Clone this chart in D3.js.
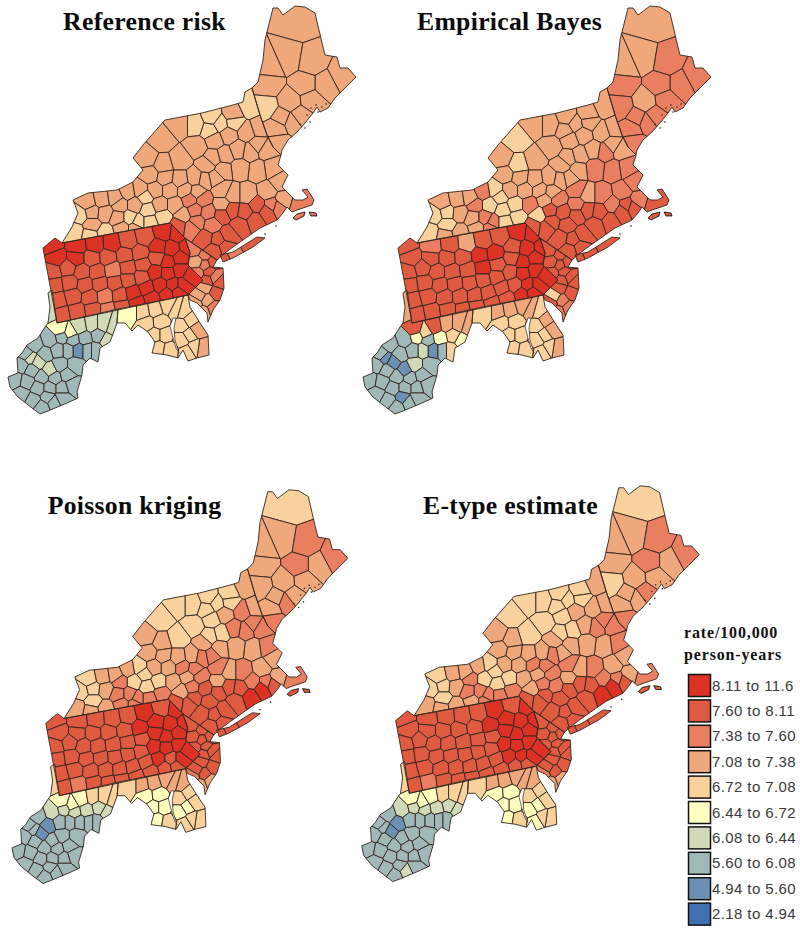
<!DOCTYPE html>
<html><head><meta charset="utf-8">
<script src="https://cdn.jsdelivr.net/npm/d3@7/dist/d3.min.js"></script>
<style>html,body{margin:0;padding:0;background:#fff}svg{display:block}</style>
</head><body><svg id="c" width="800" height="932"></svg>
<script>
// ---- legend ----
const classLabels=["8.11 to 11.6","7.60 to 8.11","7.38 to 7.60","7.08 to 7.38","6.72 to 7.08","6.44 to 6.72","6.08 to 6.44","5.60 to 6.08","4.94 to 5.60","2.18 to 4.94"];
const classColors=["#dc3226","#e05a42","#e97f60","#efa77c","#f8d19c","#ffffc0","#d0dab8","#a0b8b8","#6c90b4","#4070b0"];
const panelTitles=["Reference risk","Empirical Bayes","Poisson kriging","E-type estimate"];
// ---- geography (map units): state/area outlines ----
const outlineME=[[252,88],[258,82],[263,60],[265,40],[273,8],[278,8],[283,15],[295,6],[305,7],[315,13],[322,43],[325,55],[337,57],[340,68],[348,68],[356,77],[345,88],[335,98],[328,108],[320,112],[317,107],[313,113],[305,123],[297,132],[288,140],[282,150],[281,155],[273,147],[267,135],[260,115]];
const outlineNE=[[62,243],[72,227],[78,213],[73,200],[88,193],[117,190],[133,182],[143,170],[133,158],[143,145],[165,120],[202,113],[233,105],[243,102],[245,92],[252,88],[260,115],[267,135],[273,147],[281,155],[278,165],[288,175],[282,187],[295,200],[303,200],[308,197],[302,190],[307,189],[314,200],[312,205],[297,210],[292,212],[287,207],[283,213],[277,220],[260,228],[233,247],[225,253],[217,260],[185,238],[170,223]];
const outlinePA=[[170,223],[185,238],[190,253],[188,265],[203,280],[188,295],[57,323],[43,248],[55,238],[62,243]];
const outlineNJ=[[185,238],[217,260],[213,267],[223,268],[224,288],[220,300],[213,310],[208,322],[207,313],[197,303],[190,300],[188,295],[203,280],[188,265],[190,253]];
const outlineLI=[[220,255],[233,252],[257,237],[265,238],[253,247],[233,258],[223,262]];
const outlineMD=[[118,309],[188,295],[190,307],[200,323],[208,335],[209,355],[197,358],[188,361],[183,350],[178,358],[167,355],[152,353],[155,342],[148,332],[138,325],[132,331],[125,323],[117,323]];
const outlineWV=[[48,293],[52,290],[57,323],[118,309],[117,323],[110,342],[100,348],[98,362],[90,358],[83,365],[82,375],[77,392],[78,398],[67,403],[48,411],[40,414],[32,408],[18,397],[10,387],[8,377],[18,373],[17,358],[22,353],[27,345],[38,338],[45,327],[48,323],[50,307]];
const outlineMV=[[293,218],[297,214],[305,212],[304,216],[296,220]];
const outlineNT=[[309,212],[316,213],[317,216],[311,216]];
const chesapeake=[[173,318],[170,326],[173,338],[176,348],[179,353],[175,340],[174,328],[176,318]];
const coastSpecks=[[311,108],[316,105],[322,107],[326,104],[307,115],[318,112],[310,122],[305,128],[300,124],[276,226],[265,234]];
// ---- county seed points and rate classes (index into classLabels), one entry per county ----
const seedsME=[[298,22],[288,58],[312,62],[270,66],[268,85],[342,76],[325,85],[305,85],[311,100],[290,102],[282,118],[277,128],[292,122],[300,116],[279,143],[266,107]];
const refME =[3,3,3,3,3,3,3,3,3,3,3,3,3,3,3,4];
const ebME  =[3,3,2,3,2,2,2,2,2,3,2,2,2,2,2,2];
const pkME  =[4,3,2,3,3,2,3,2,3,3,3,3,2,3,2,3];
const etME  =[4,3,2,3,3,2,3,2,3,3,3,3,3,2,2,4];
const seedsNE=[
[250,107],[247,132],[259,128],[258,145],[266,150],[250,152],[272,168],[258,170],[238,150],[240,168],
[162,140],[180,125],[195,125],[197,147],[212,118],[220,124],[210,130],[233,115],[234,122],[228,135],
[215,140],[225,155],[213,158],[223,170],[180,160],[163,165],[147,158],[150,175],[165,178],[180,180],
[195,178],[207,165],[205,180],[215,178],[222,190],[197,192],[185,190],[170,190],[155,190],[140,190],
[145,197],[128,192],[120,205],[135,205],[148,210],[160,205],[175,205],[190,200],[203,200],[88,203],
[102,200],[115,198],[80,215],[92,212],[92,225],[105,213],[118,218],[130,218],[75,232],[90,235],
[105,233],[122,228],[138,222],[150,222],[163,217],[135,228],[183,215],[195,210],[197,222],[208,212],
[212,225],[222,205],[222,215],[233,195],[247,195],[232,210],[245,212],[257,205],[268,192],[280,182],
[272,205],[283,200],[300,205],[240,225],[255,220],[267,212],[278,207],[228,235],[218,240],[205,238],
[215,250],[178,226],[192,228],[225,247]];
const refNE=[4,3,3,3,3,3,3,3,3,3, 3,3,4,3,4,4,4,3,4,3, 3,3,3,3,3,3,3,3,3,3, 3,3,3,3,3,3,3,3,3,3, 4,3,3,3,4,3,3,2,2,3, 3,3,4,3,3,3,3,4,4,4, 4,3,4,4,4,3,3,2,2,2, 2,3,1,3,3,1,1,1,3,3, 2,3,2,1,1,1,2,1,1,1, 1,1,2,1];
const ebNE =[3,3,3,3,3,2,2,2,3,2, 4,3,3,3,3,3,3,3,3,3, 3,3,3,3,3,4,3,3,3,3, 3,3,3,3,2,3,3,3,3,4, 4,2,2,4,4,4,2,3,2,3, 3,3,4,4,4,3,3,2,4,3, 3,3,2,4,4,2,4,1,1,1, 1,2,1,3,2,1,1,2,2,2, 1,2,1,1,1,1,1,1,1,1, 1,1,1,1];
const pkNE =[3,2,3,2,2,2,2,3,2,3, 4,4,4,4,4,4,4,4,4,3, 4,4,4,3,4,3,3,3,3,3, 3,3,2,2,2,2,2,3,3,4, 4,3,2,4,4,4,3,3,2,4, 3,3,4,4,4,3,2,2,3,3, 3,2,2,2,2,2,3,2,1,1, 1,3,1,3,2,1,1,2,3,3, 2,3,2,1,0,0,1,1,1,1, 1,1,1,1];
const etNE =[3,3,3,2,2,2,2,3,3,3, 4,4,4,4,4,4,4,4,4,3, 4,4,4,3,4,3,3,3,3,3, 3,3,2,3,2,2,2,3,3,4, 4,3,2,4,4,4,3,3,2,4, 3,3,4,4,4,3,2,2,3,3, 3,3,2,2,2,2,3,2,1,2, 1,3,1,3,2,1,1,2,3,3, 2,3,2,1,0,0,1,1,1,1, 1,1,1,1];
const seedsPA=[
[52,245],[77,247],[95,245],[112,244],[128,241],[145,237],[163,232],[178,234],
[57,258],[76,258],[92,258],[108,257],[125,255],[140,253],[158,247],[172,249],[187,247],
[53,272],[68,268],[82,272],[97,272],[113,270],[128,268],[143,265],[157,258],[168,262],[180,258],
[55,285],[70,283],[85,285],[100,284],[115,283],[128,280],[142,277],[155,272],[168,273],[180,270],[190,276],
[58,300],[73,296],[90,297],[105,296],[120,295],[133,293],[147,288],[160,285],[173,285],[183,285],
[62,315],[77,312],[93,310],[108,310],[122,307],[137,303],[152,298],[167,294],[178,292]];
const refPA=[0,0,0,0,1,1,0,0, 0,0,1,1,1,1,0,0,0, 1,1,1,1,2,1,1,1,0,0, 1,1,1,1,1,1,1,0,0,0,0, 1,1,1,2,1,0,0,0,0,0, 1,1,1,2,1,0,0,0,0];
const ebPA =[1,2,1,3,1,1,0,0, 1,1,1,1,0,0,1,0,0, 1,1,1,1,1,0,1,1,0,0, 1,1,1,1,1,1,1,1,0,0,0, 1,1,1,1,1,1,1,1,0,0, 1,1,1,1,1,1,1,0,0];
const pkPA =[1,1,1,1,1,0,1,0, 1,1,1,1,1,0,0,0,0, 1,1,1,1,1,1,1,0,0,0, 1,1,1,1,1,1,1,0,0,0,0, 1,1,1,1,1,1,1,0,1,0, 1,2,1,1,1,1,1,1,1];
const etPA =[1,1,1,1,1,0,1,0, 1,1,1,1,1,0,0,0,0, 1,1,1,1,1,1,1,0,0,0, 1,1,1,1,1,1,1,0,0,0,0, 1,1,1,1,1,1,1,0,0,0, 1,2,1,1,1,1,1,1,1];
const seedsNJ=[[195,250],[205,255],[197,262],[205,265],[213,262],[209,272],[198,273],[207,280],[215,277],[220,282],[205,288],[216,293],[200,296],[207,300],[196,303],[214,308],[203,312]];
const refNJ=[2,2,3,2,1,1,2,1,2,1,3,1,3,3,3,2,3];
const ebNJ =[1,1,1,1,1,1,1,1,1,1,1,1,4,2,1,2,2];
const pkNJ =[1,1,1,1,1,1,1,1,1,1,1,1,1,1,2,3,3];
const etNJ =[1,1,1,1,1,1,1,1,1,1,1,1,1,1,2,3,3];
const seedsLI=[[250,243],[232,253],[224,257]];
const refLI=[1,2,1], ebLI=[1,1,1], pkLI=[1,1,1], etLI=[1,1,1];
const seedsMD=[[130,312],[143,312],[155,310],[168,306],[176,310],[147,323],[160,322],[155,335],[165,335],[158,348],[170,350],[183,312],[182,325],[190,320],[182,340],[190,335],[187,352],[197,330],[202,348],[195,347]];
const refMD=[5,4,4,4,4,4,4,4,4,4,4,4,4,4,4,4,4,3,3,4];
const ebMD =[4,3,3,3,3,4,4,4,4,4,4,4,4,3,4,4,4,3,3,4];
const pkMD =[4,3,3,3,3,5,5,5,5,5,4,3,4,4,5,5,4,4,4,4];
const etMD =[4,3,3,3,3,5,5,5,5,5,4,3,4,4,5,5,5,4,4,4];
const seedsWV=[
[51,310],[60,330],[70,333],[80,327],[92,325],[103,325],[113,328],[107,340],[98,335],[95,350],
[50,340],[62,337],[73,340],[85,338],[78,350],[68,350],[35,345],[27,355],[30,358],[38,362],
[45,354],[50,370],[60,365],[88,350],[58,350],[22,365],[32,370],[42,377],[55,378],[67,375],
[75,365],[15,380],[27,382],[38,388],[50,388],[62,388],[72,385],[22,394],[33,400],[42,407],
[48,397],[54,402],[62,398]];
const refWV=[6,5,5,6,6,6,6,6,7,7, 7,7,7,7,8,7,7,7,6,6, 7,6,7,7,7,7,7,7,7,7, 7,7,7,7,7,7,7,7,7,7, 7,7,7];
const ebWV =[3,1,4,1,3,3,3,5,4,4, 7,5,7,5,8,6,7,7,8,8, 7,8,6,7,7,7,7,7,7,7, 7,7,7,7,7,7,7,7,7,7, 8,7,7];
const pkWV =[4,5,5,5,4,4,4,6,6,7, 6,6,6,6,7,7,7,7,7,8, 8,7,7,7,7,7,7,7,7,7, 7,7,7,7,7,7,7,7,7,7, 7,7,7];
const etWV =[4,5,5,5,4,4,4,6,6,7, 6,6,6,6,7,7,7,7,7,8, 8,7,7,7,7,7,7,7,7,7, 7,7,7,7,7,7,7,7,7,7, 7,6,7];
const seedsMV=[[299,216]], refMV=[2], ebMV=[1], pkMV=[1], etMV=[1];
const seedsNT=[[313,214]], refNT=[2], ebNT=[1], pkNT=[1], etNT=[1];

const regions=[
 {id:"ME",outline:outlineME,seeds:seedsME,vals:[refME,ebME,pkME,etME]},
 {id:"NE",outline:outlineNE,seeds:seedsNE,vals:[refNE,ebNE,pkNE,etNE]},
 {id:"PA",outline:outlinePA,seeds:seedsPA,vals:[refPA,ebPA,pkPA,etPA]},
 {id:"NJ",outline:outlineNJ,seeds:seedsNJ,vals:[refNJ,ebNJ,pkNJ,etNJ]},
 {id:"LI",outline:outlineLI,seeds:seedsLI,vals:[refLI,ebLI,pkLI,etLI]},
 {id:"MD",outline:outlineMD,seeds:seedsMD,vals:[refMD,ebMD,pkMD,etMD]},
 {id:"WV",outline:outlineWV,seeds:seedsWV,vals:[refWV,ebWV,pkWV,etWV]},
 {id:"MV",outline:outlineMV,seeds:seedsMV,vals:[refMV,ebMV,pkMV,etMV]},
 {id:"NT",outline:outlineNT,seeds:seedsNT,vals:[refNT,ebNT,pkNT,etNT]}
];
const panelFrames=[{k:1,x:0,y:0},{k:1,x:355,y:0},{k:.965,x:4.3,y:484},{k:.97,x:354,y:480}];
const titleAnchors=[{x:144.5,y:30},{x:509.5,y:30},{x:134.5,y:514},{x:510.5,y:514}];

const color=d3.scaleOrdinal(d3.range(classLabels.length),classColors);
const svg=d3.select("#c");
const LINE="#33261e";
const ring=r=>{const a=r.slice();a.push(a[0]);return a;};
const poly=r=>({type:"Polygon",coordinates:[ring(r)]});

panelFrames.forEach((f,pi)=>{
  const proj=d3.geoIdentity().scale(f.k).translate([f.x,f.y]);
  const path=d3.geoPath(proj);
  const g=svg.append("g").attr("class","panel");
  regions.forEach(reg=>{
    const cid=`clip${pi}${reg.id}`;
    svg.append("clipPath").attr("id",cid).append("path").attr("d",path(poly(reg.outline)));
    const rg=g.append("g").attr("clip-path",`url(#${cid})`);
    let cells;
    if(reg.seeds.length<3){cells=reg.seeds.map(()=>reg.outline);}
    else{
      const vor=d3.Delaunay.from(reg.seeds).voronoi([0,0,370,430]);
      cells=reg.seeds.map((s,i)=>vor.cellPolygon(i).slice(0,-1));
    }
    rg.selectAll("path").data(cells).join("path")
      .attr("d",c=>path(poly(c)))
      .attr("fill",(c,i)=>color(reg.vals[pi][i]))
      .attr("stroke",LINE).attr("stroke-width",0.9).attr("stroke-linejoin","round");
  });
  g.selectAll("path.out").data(regions).join("path").attr("class","out")
    .attr("d",r=>path(poly(r.outline))).attr("fill","none")
    .attr("stroke",LINE).attr("stroke-width",0.9).attr("stroke-linejoin","round");
  g.append("path").attr("d",path(poly(chesapeake))).attr("fill","#fff").attr("stroke",LINE).attr("stroke-width",0.7);
  g.selectAll("circle").data(coastSpecks).join("circle")
    .attr("cx",d=>proj(d)[0]).attr("cy",d=>proj(d)[1]).attr("r",0.8).attr("fill","#222");
  svg.append("text").attr("x",titleAnchors[pi].x).attr("y",titleAnchors[pi].y)
    .attr("text-anchor","middle").attr("font-family","'Liberation Serif',serif")
    .attr("font-weight","bold").attr("font-size",25.7).attr("letter-spacing",0.3).attr("fill","#0a0a0a")
    .text(panelTitles[pi]);
});

// legend
const lg=svg.append("g");
["rate/100,000","person-years"].forEach((t,i)=>lg.append("text").attr("x",684).attr("y",638+i*22)
  .attr("font-family","'Liberation Serif',serif").attr("font-weight","bold").attr("font-size",16).attr("letter-spacing",0.85).attr("fill","#111").text(t));
const ly=d3.scaleBand().domain(d3.range(classLabels.length)).range([674,928]).paddingInner(0);
lg.selectAll("rect").data(classLabels).join("rect")
  .attr("x",688.5).attr("y",(d,i)=>ly(i)+.5).attr("width",22).attr("height",22)
  .attr("fill",(d,i)=>color(i)).attr("stroke","#111").attr("stroke-width",1.5);
lg.selectAll("text.l").data(classLabels).join("text").attr("class","l")
  .attr("x",712).attr("y",(d,i)=>ly(i)+16.5)
  .attr("font-family","'Liberation Sans',Arial,sans-serif").attr("font-size",15).attr("letter-spacing",0.4).attr("fill","#3a3a3a").text(d=>d);
</script></body></html>
